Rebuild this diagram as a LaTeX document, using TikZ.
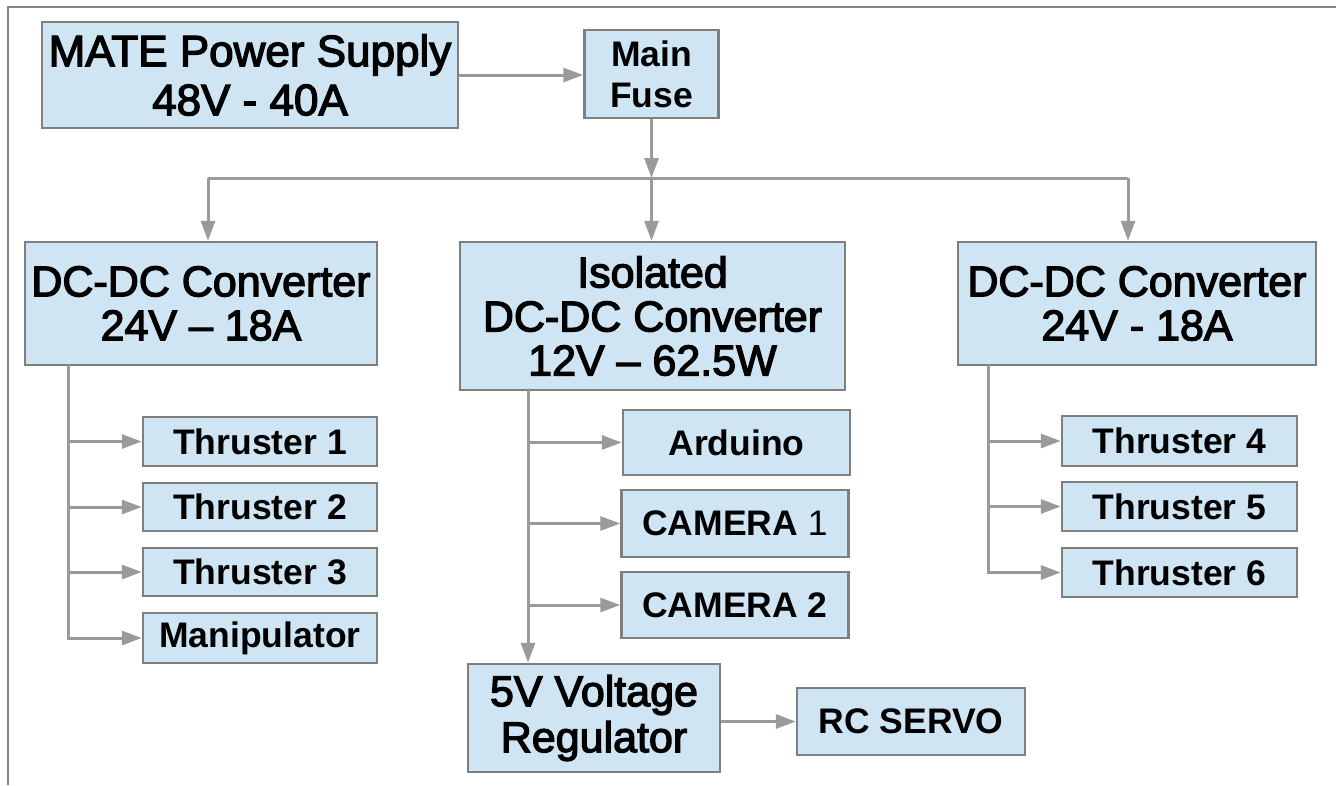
\documentclass[tikz,border=0pt]{standalone}
\usepackage{fontspec}
\setmainfont{Liberation Sans}
\newfontfamily\semifont{Liberation Sans}[Ligatures=TeX, FakeBold=3]
\usepackage{xcolor}
\usetikzlibrary{arrows.meta,positioning,calc}

\definecolor{boxfill}{HTML}{CFE5F3}
\definecolor{boxline}{HTML}{7F7F7F}
\definecolor{wiregray}{HTML}{9A9A9A}
\definecolor{framegray}{HTML}{858585}

\begin{document}
\begin{tikzpicture}[x=1pt, y=-1pt,
		block/.style={draw=boxline, fill=boxfill, line width=2.5pt, inner sep=0pt, align=center},
		bigblock/.style={block, font=\fontsize{43}{44}\selectfont\semifont},
		smallblock/.style={block, font=\fontsize{35.5}{41}\selectfont\bfseries},
		wire/.style={draw=wiregray, line width=3pt},
		feed/.style={wire, -{Triangle[length=20pt, width=14pt]}}]

		\useasboundingbox (0,0) rectangle (1336,785);
		\draw[framegray, line width=2pt] (8,785) -- (8,7) -- (1336,7);

		\node[bigblock, font=\fontsize{44}{49}\selectfont\semifont, minimum width=416pt, minimum height=106pt] (mate) at (250,75) {MATE Power Supply\\48V - 40A};
		\node[smallblock, minimum width=134pt, minimum height=88pt] (fuse) at (651.5,74) {Main\\Fuse};

		\node[bigblock, minimum width=352pt, minimum height=123pt] (dcl) at (201,303.5) {DC-DC Converter\\24V -- 18A};
		\node[bigblock, minimum width=385pt, minimum height=148pt] (iso) at (652.5,316) {Isolated\\DC-DC Converter\\12V -- 62.5W};
		\node[bigblock, minimum width=358pt, minimum height=123pt] (dcr) at (1137,303.5) {DC-DC Converter\\24V - 18A};

		\node[smallblock, minimum width=234pt, minimum height=49pt] (t1) at (260,441.5) {Thruster 1};
		\node[smallblock, minimum width=234pt, minimum height=48pt] (t2) at (260,507) {Thruster 2};
		\node[smallblock, minimum width=234pt, minimum height=48pt] (t3) at (260,572) {Thruster 3};
		\node[smallblock, minimum width=234pt, minimum height=50pt] (manip) at (260,638) {Manipulator};

		\node[smallblock, minimum width=227pt, minimum height=65pt] (ard) at (736.5,442.5) {Arduino};
		\node[smallblock, minimum width=227pt, minimum height=67pt] (cam1) at (735,523.5) {CAMERA {\mdseries 1}};
		\node[smallblock, minimum width=227pt, minimum height=66pt] (cam2) at (735,605) {CAMERA 2};
		\node[bigblock, font=\fontsize{43}{46}\selectfont\semifont, minimum width=252pt, minimum height=108pt] (reg) at (594,718) {5V Voltage\\Regulator};
		\node[smallblock, minimum width=228pt, minimum height=67pt] (servo) at (911,721.5) {RC SERVO};

		\node[smallblock, minimum width=235pt, minimum height=50pt] (t4) at (1179.5,441) {Thruster 4};
		\node[smallblock, minimum width=235pt, minimum height=49pt] (t5) at (1179.5,506.5) {Thruster 5};
		\node[smallblock, minimum width=235pt, minimum height=49pt] (t6) at (1179.5,572.5) {Thruster 6};

		\coordinate (busl) at (208,178);
		\coordinate (busm) at (651.5,178);
		\coordinate (busr) at (1128,178);
		\coordinate (tl) at (68,365);
		\coordinate (tm) at (528,390);
		\coordinate (tr) at (988,365);

		\draw[feed] (mate.east) -- (mate.east -| fuse.west);
		\draw[feed] (fuse) -- (busm);
		\draw[wire] (busl) -- (busr);
		\draw[feed] (busl) -- (busl |- dcl.north);
		\draw[feed] (busm) -- (busm |- iso.north);
		\draw[feed] (busr) -- (busr |- dcr.north);

		\draw[feed] (tl) |- (manip);
		\foreach \n in {t1,t2,t3}
			\draw[feed] (tl |- \n) -- (\n);

		\draw[feed] (tm) -- (tm |- reg.north);
		\foreach \n in {ard,cam1,cam2}
			\draw[feed] (tm |- \n) -- (\n);
		\draw[feed] (reg.east |- servo.west) -- (servo.west);

		\draw[feed] (tr) |- (t6);
		\foreach \n in {t4,t5}
			\draw[feed] (tr |- \n) -- (\n);
	\end{tikzpicture}
\end{document}
